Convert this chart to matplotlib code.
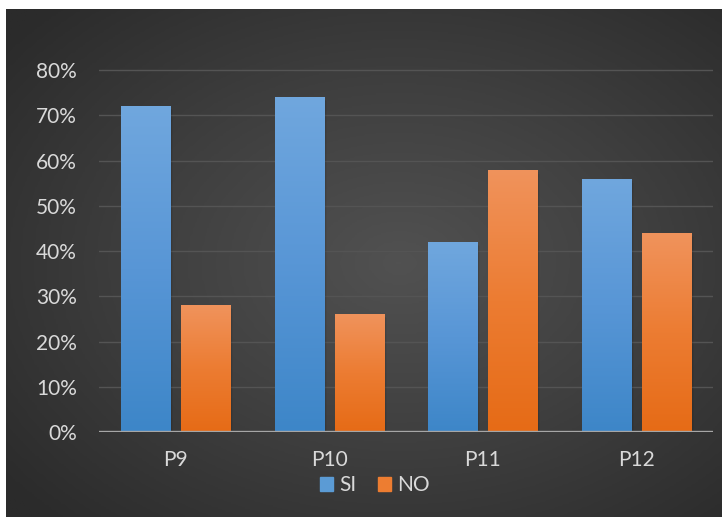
import numpy as np
import matplotlib.pyplot as plt
from matplotlib.patches import Rectangle
from matplotlib.colors import LinearSegmentedColormap

plt.rcParams['font.family'] = ['Lato', 'DejaVu Sans']

categories = ["P9", "P10", "P11", "P12"]
si_values = [72, 74, 42, 56]
no_values = [28, 26, 58, 44]
y_ticks = [0, 10, 20, 30, 40, 50, 60, 70, 80]

W, H = 724, 518
fig = plt.figure(figsize=(W / 100, H / 100), dpi=100)
fig.patch.set_facecolor("white")

# dark radial background of the chart area
bg = fig.add_axes([6 / W, 1 - 517 / H, 716 / W, 508 / H])
yy, xx = np.mgrid[-1:1:200j, -1:1:300j]
r = np.sqrt((xx - 0.1) ** 2 + yy ** 2) / np.sqrt(2)
bg_cmap = LinearSegmentedColormap.from_list("bg", ["#515151", "#3f3f3f", "#2b2b2b"])
bg.imshow(np.clip(r, 0, 1), cmap=bg_cmap, aspect="auto", extent=[0, 1, 0, 1])
bg.set_axis_off()

ax = fig.add_axes([99 / W, 1 - 432 / H, 614 / W, (432 - 25) / H])
ax.set_facecolor("none")

for t in y_ticks[1:]:
    ax.axhline(t, color="#545454", lw=1.0, zorder=1)

blue = LinearSegmentedColormap.from_list("b", ["#3d86c8", "#5896d6", "#70a7de"])
orange = LinearSegmentedColormap.from_list("o", ["#e66b16", "#ec7c32", "#f0935c"])
grad = np.linspace(0, 1, 256).reshape(-1, 1)

bw = 0.32
off = 0.195
for i in range(len(categories)):
    for val, dx, cm in [(si_values[i], -off, blue), (no_values[i], off, orange)]:
        x0 = i + dx - bw / 2
        for k, a in enumerate([0.10, 0.07, 0.04]):
            sh = Rectangle((x0 + 0.006 * (k + 1), 0), bw, val - 0.3 * (k + 1),
                           facecolor="black", alpha=a, lw=0, zorder=2)
            ax.add_patch(sh)
        im = ax.imshow(grad, cmap=cm, origin="lower", aspect="auto",
                       extent=[x0, x0 + bw, 0, val], zorder=3)
        rect = Rectangle((x0, 0), bw, val, facecolor="none", lw=0)
        ax.add_patch(rect)
        im.set_clip_path(rect)

ax.set_xlim(-0.5, len(categories) - 0.5)
ax.set_ylim(0, 90)
ax.axhline(0, color="#a6a6a6", lw=2.4, zorder=4)

ax.set_yticks(y_ticks)
ax.set_yticklabels([f"{t}%" for t in y_ticks])
ax.set_xticks(range(len(categories)))
ax.set_xticklabels(categories)
ax.tick_params(axis="both", length=0, colors="#d9d9d9", labelsize=15)
ax.tick_params(axis="y", pad=16)
ax.tick_params(axis="x", pad=13)
for s in ax.spines.values():
    s.set_visible(False)

fig.legend(handles=[Rectangle((0, 0), 1, 1, color="#5b9bd5"),
                    Rectangle((0, 0), 1, 1, color="#ed7d31")],
           labels=["SI", "NO"], loc="center", bbox_to_anchor=(375 / W, 1 - 485 / H),
           ncol=2, frameon=False, fontsize=15, labelcolor="#d9d9d9",
           handlelength=0.65, handleheight=0.65, handletextpad=0.3, columnspacing=1.0)

fig.savefig("out.png", dpi=100)
